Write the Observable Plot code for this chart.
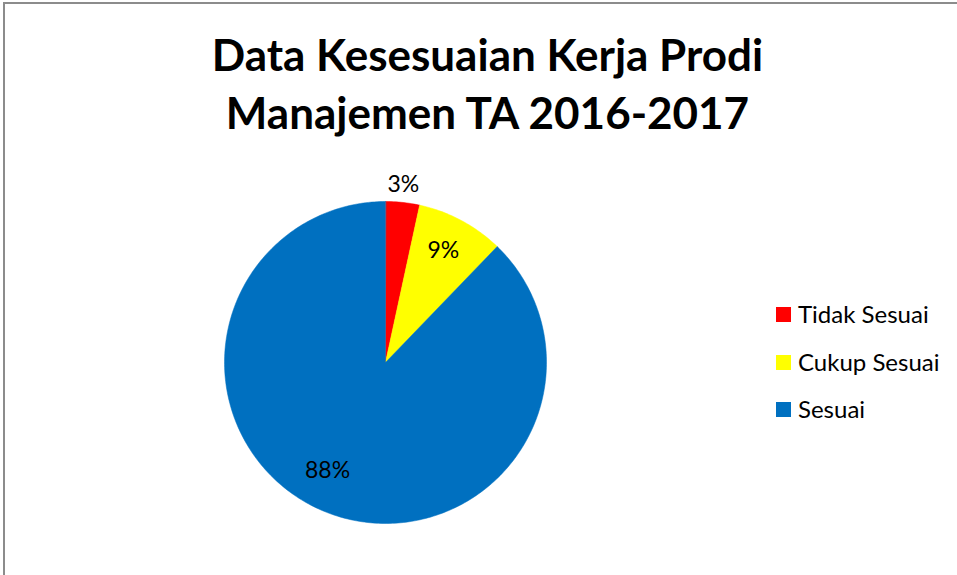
<!DOCTYPE html>
<html>
<head>
<meta charset="utf-8">
<script src="https://cdn.jsdelivr.net/npm/d3@7"></script>
<script src="https://cdn.jsdelivr.net/npm/@observablehq/plot@0.6"></script>
<style>
  html, body { margin: 0; padding: 0; background: #fff; }
  #wrap { position: relative; width: 957px; height: 575px; overflow: hidden; font-family: Lato, "Open Sans", sans-serif; }
  #frame { position: absolute; left: 3px; top: 2px; width: 2000px; height: 2000px; border-left: 2px solid #8c8c8c; border-top: 2px solid #8c8c8c; }
  #title { position: absolute; left: 0; width: 975px; top: 25px; text-align: center; font-weight: bold; font-size: 44px; line-height: 58px; color: #000; }
  #chart { position: absolute; left: 0; top: 0; }
  #legend { position: absolute; left: 776px; top: 301px; font-size: 24px; color: #000; }
  .item { position: absolute; left: 0; white-space: nowrap; height: 26px; line-height: 26px; }
  .sw { position: absolute; left: 0; top: 6px; width: 15px; height: 15px; }
  .lab { position: absolute; left: 22px; top: 0; }
</style>
</head>
<body>
<div id="wrap">
  <div id="frame"></div>
  <div id="chart"></div>
  <div id="title">Data Kesesuaian Kerja Prodi<br>Manajemen TA 2016-2017</div>
  <div id="legend"></div>
</div>
<script>
const categories = ["Tidak Sesuai", "Cukup Sesuai", "Sesuai"];
const values = [3.4, 8.8, 87.8];
const labels = ["3%", "9%", "88%"];
const colors = ["#FF0000", "#FFFF00", "#0070C0"];

const data = categories.map((c, i) => ({category: c, value: values[i], label: labels[i]}));
const arcs = d3.pie().sort(null).value(d => d.value)(data);

// polygon vertices for each slice (unit circle, y up)
const poly = [];
arcs.forEach(a => {
  const c = a.data.category;
  poly.push({category: c, x: 0, y: 0});
  const n = Math.max(4, Math.ceil((a.endAngle - a.startAngle) / (Math.PI / 180)));
  for (let k = 0; k <= n; k++) {
    const t = a.startAngle + (a.endAngle - a.startAngle) * k / n;
    poly.push({category: c, x: Math.sin(t), y: Math.cos(t)});
  }
});

// label placement: radius factor and fraction along the slice
const labelR = [1.11, 0.78, 0.76];
const labelF = [0.47, 0.48, 0.52];
const labelPts = arcs.map((a, i) => {
  const m = a.startAngle + (a.endAngle - a.startAngle) * labelF[i];
  return {label: a.data.label, x: Math.sin(m) * labelR[i], y: Math.cos(m) * labelR[i]};
});

const cx = 385, cy = 362, R = 161;
const plot = Plot.plot({
  width: 957, height: 575,
  margin: 0,
  x: {domain: [-1, 1], range: [cx - R, cx + R], axis: null},
  y: {domain: [-1, 1], range: [cy + R, cy - R], axis: null},
  color: {domain: categories, range: colors},
  style: {background: "transparent", fontFamily: "Lato, 'Open Sans', sans-serif"},
  marks: [
    Plot.line(poly, {x: "x", y: "y", z: "category", fill: "category", stroke: "category", strokeWidth: 0.5, curve: "linear-closed"}),
    Plot.text(labelPts, {x: "x", y: "y", text: "label", fontSize: 23, fill: "#000"})
  ]
});
document.getElementById("chart").appendChild(plot);

const legend = document.getElementById("legend");
categories.forEach((c, i) => {
  const it = document.createElement("div");
  it.className = "item";
  it.style.top = (i * 47.5) + "px";
  it.innerHTML = `<div class="sw" style="background:${colors[i]}"></div><div class="lab">${c}</div>`;
  legend.appendChild(it);
});
</script>
</body>
</html>
